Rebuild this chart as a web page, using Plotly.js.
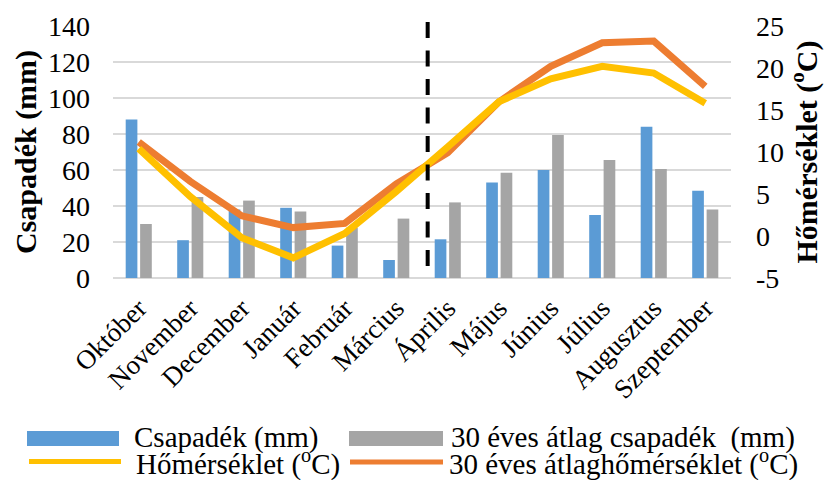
<!DOCTYPE html>
<html>
<head>
<meta charset="utf-8">
<script src="https://cdn.plot.ly/plotly-3.0.1.min.js"></script>
<style>html,body{margin:0;padding:0;background:#fff;}#chart{width:826px;height:480px;}</style>
</head>
<body>
<div id="chart"></div>
<script>
// ---- data ----
var months = ['Október','November','December','Január','Február','Március','Április','Május','Június','Július','Augusztus','Szeptember'];
var precip = [88, 21, 38, 39, 18, 10, 21.5, 53, 60, 35, 84, 48.5];
var precipAvg30 = [30, 45, 43, 37, 28, 33, 42, 58.5, 79.5, 65.5, 60.5, 38];
var temp = [10.4, 4.7, -0.2, -2.6, 0.3, 5.3, 10.6, 16.0, 18.7, 20.2, 19.4, 15.8];
var tempAvg30 = [11.2, 6.5, 2.4, 1.0, 1.5, 6.2, 9.9, 16.0, 20.2, 23.0, 23.2, 17.8];
var precipTicks = [0, 20, 40, 60, 80, 100, 120, 140];
var tempTicks = [-5, 0, 5, 10, 15, 20, 25];
var tempTickText = ['-5', '0', '5', '10', '15', '20', '25'];
var legendNames = ['Csapadék (mm)', '30 éves átlag csapadék \u00a0(mm)', 'Hőmérséklet (<sup>o</sup>C)', '30 éves átlaghőmérséklet (<sup>o</sup>C)'];

// ---- styling ----
var FONT = 'Liberation Serif, Times New Roman, serif';
var C_BLUE = '#5B9BD5', C_GRAY = '#A5A5A5', C_YEL = '#FFC000', C_ORA = '#ED7D31';
var L = 113, R = 731, T = 26, B = 278;
function px(x) { return (x - L) / (R - L); }
function py(y) { return (B - y) / (B - T); }

var traces = [
  {type: 'bar', x: months, y: precip, name: legendNames[0], marker: {color: C_BLUE}, yaxis: 'y', showlegend: false, hoverinfo: 'skip'},
  {type: 'bar', x: months, y: precipAvg30, name: legendNames[1], marker: {color: C_GRAY}, yaxis: 'y', showlegend: false, hoverinfo: 'skip'},
  {type: 'scatter', mode: 'lines', x: months, y: tempAvg30, name: legendNames[3], line: {color: C_ORA, width: 7}, yaxis: 'y2', showlegend: false, hoverinfo: 'skip'},
  {type: 'scatter', mode: 'lines', x: months, y: temp, name: legendNames[2], line: {color: C_YEL, width: 7}, yaxis: 'y2', showlegend: false, hoverinfo: 'skip'}
];

var legendShapes = [
  {type: 'rect', xref: 'paper', yref: 'paper', x0: px(27), x1: px(119), y0: py(446), y1: py(431), fillcolor: C_BLUE, line: {width: 0}},
  {type: 'rect', xref: 'paper', yref: 'paper', x0: px(349), x1: px(443), y0: py(446), y1: py(431), fillcolor: C_GRAY, line: {width: 0}},
  {type: 'line', xref: 'paper', yref: 'paper', x0: px(29), x1: px(121), y0: py(461.5), y1: py(461.5), line: {color: C_YEL, width: 5}},
  {type: 'line', xref: 'paper', yref: 'paper', x0: px(350), x1: px(443), y0: py(462), y1: py(462), line: {color: C_ORA, width: 5}}
];
var legendPos = [[132, 437], [449, 437], [134, 462], [447, 462]];
var legendAnn = legendNames.map(function (t, i) {
  return {text: t, xref: 'paper', yref: 'paper', x: px(legendPos[i][0]), y: py(legendPos[i][1]),
          xanchor: 'left', yanchor: 'middle', showarrow: false, font: {family: FONT, size: 29, color: '#000'}};
});

var layout = {
  width: 826, height: 480,
  margin: {l: L, r: 826 - R, t: T, b: 480 - B},
  paper_bgcolor: '#fff', plot_bgcolor: '#fff',
  font: {family: FONT, color: '#000'},
  barmode: 'group', bargap: 0.44, bargroupgap: 0.19,
  showlegend: false,
  xaxis: {
    type: 'category', tickangle: -45, showgrid: false, ticks: '', zeroline: false,
    tickfont: {family: FONT, size: 27, color: '#000'}, ticklabelstandoff: 8
  },
  yaxis: {
    range: [0, 140], tickvals: precipTicks, showgrid: true, gridcolor: '#D9D9D9', gridwidth: 1.5,
    zeroline: true, zerolinecolor: '#D9D9D9', zerolinewidth: 1.5, ticks: '',
    tickfont: {family: FONT, size: 28, color: '#000'}, ticklabelstandoff: 22,
    title: {text: '<b>Csapadék (mm)</b>', font: {family: FONT, size: 30, color: '#000'}, standoff: 2}
  },
  yaxis2: {
    overlaying: 'y', side: 'right', range: [-5, 25], tickvals: tempTicks, ticktext: tempTickText,
    showgrid: false, zeroline: false, ticks: '',
    tickfont: {family: FONT, size: 28, color: '#000'}, ticklabelstandoff: 24,
    title: {text: '<b>Hőmérséklet (<sup>o</sup>C)</b>', font: {family: FONT, size: 30, color: '#000'}, standoff: 12}
  },
  shapes: [
    {type: 'line', xref: 'x', yref: 'paper', x0: 5.61, x1: 5.61, y0: py(22), y1: 0, layer: 'above',
     line: {color: '#000', width: 4, dash: '16px,12.5px'}}
  ].concat(legendShapes),
  annotations: legendAnn
};

Plotly.newPlot('chart', traces, layout, {staticPlot: true, displayModeBar: false});
</script>
</body>
</html>
